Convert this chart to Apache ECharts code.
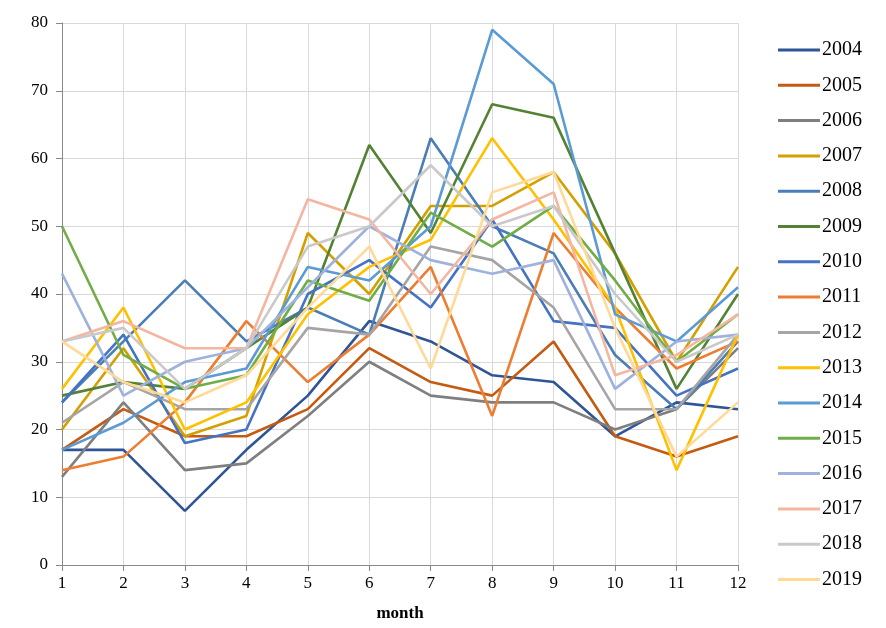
<!DOCTYPE html>
<html><head><meta charset="utf-8">
<script src="https://cdn.jsdelivr.net/npm/echarts@6/dist/echarts.min.js"></script>
<style>html,body{margin:0;padding:0;background:#fff}#c{width:886px;height:628px}</style>
</head><body><div id="c"></div>
<script>
const months = ['1','2','3','4','5','6','7','8','9','10','11','12'];
const years = ['2004','2005','2006','2007','2008','2009','2010','2011','2012','2013','2014','2015','2016','2017','2018','2019'];
const colors = ['#2F5597','#C55A11','#7F7F7F','#D4A000','#4A7EB5','#548235','#4472C4','#ED7D31','#A5A5A5','#FFC000','#5B9BD5','#70AD47','#9FB2DD','#F4B6A0','#C9C9C9','#FFD996'];
const v2004 = [17,17,8,17,25,36,33,28,27,19,24,23];
const v2005 = [17,23,19,19,23,32,27,25,33,19,16,19];
const v2006 = [13,24,14,15,22,30,25,24,24,20,23,32];
const v2007 = [20,32,19,22,49,40,53,53,58,46,30,44];
const v2008 = [24,33,42,33,38,34,63,50,46,31,23,33];
const v2009 = [25,27,26,32,38,62,49,68,66,46,26,40];
const v2010 = [24,34,18,20,40,45,38,51,36,35,25,29];
const v2011 = [14,16,24,36,27,34,44,22,49,38,29,33];
const v2012 = [21,27,23,23,35,34,47,45,38,23,23,34];
const v2013 = [26,38,20,24,37,44,48,63,51,38,14,34];
const v2014 = [17,21,27,29,44,42,50,79,71,37,33,41];
const v2015 = [50,31,26,28,42,39,52,47,53,42,30,37];
const v2016 = [43,25,30,32,41,50,45,43,45,26,33,34];
const v2017 = [33,36,32,32,54,51,40,51,55,28,31,37];
const v2018 = [33,35,26,32,47,50,59,50,53,40,30,34];
const v2019 = [33,27,24,28,38,47,29,55,58,35,16,24];
const values = [v2004,v2005,v2006,v2007,v2008,v2009,v2010,v2011,v2012,v2013,v2014,v2015,v2016,v2017,v2018,v2019];

const font = '"Liberation Serif","Times New Roman",serif';
const chart = echarts.init(document.getElementById('c'), null, {renderer:'canvas'});
chart.setOption({
  animation:false,
  color: colors,
  grid:{left:62,right:148,top:23,bottom:63,containLabel:false},
  legend:{
    orient:'vertical', left:773, top:35, itemWidth:42, itemHeight:3, itemGap:15.3,
    icon:'rect',
    textStyle:{fontFamily:font,fontSize:20,color:'#000',padding:[0,0,0,-3]},
    data: years
  },
  xAxis:{
    type:'category', data:months, boundaryGap:false,
    name:'month', nameLocation:'middle', nameGap:40,
    nameTextStyle:{fontFamily:font,fontSize:17,fontWeight:'bold',color:'#000'},
    axisLine:{lineStyle:{color:'#898989',width:1}},
    axisTick:{show:true,alignWithLabel:true,length:6,lineStyle:{color:'#898989'}},
    axisLabel:{fontFamily:font,fontSize:17,color:'#000',margin:10},
    splitLine:{show:true,lineStyle:{color:'#D9D9D9',width:1}}
  },
  yAxis:{
    type:'value', min:0, max:80, interval:10,
    axisLine:{show:true,lineStyle:{color:'#898989',width:1}},
    axisTick:{show:true,length:6,lineStyle:{color:'#898989'}},
    axisLabel:{fontFamily:font,fontSize:17,color:'#000',margin:14},
    splitLine:{show:true,lineStyle:{color:'#D9D9D9',width:1}}
  },
  series: years.map((y,i)=>({
    name:y, type:'line', data:values[i], symbol:'none',
    lineStyle:{width:2.6,color:colors[i]}, itemStyle:{color:colors[i]}
  }))
});
</script></body></html>
